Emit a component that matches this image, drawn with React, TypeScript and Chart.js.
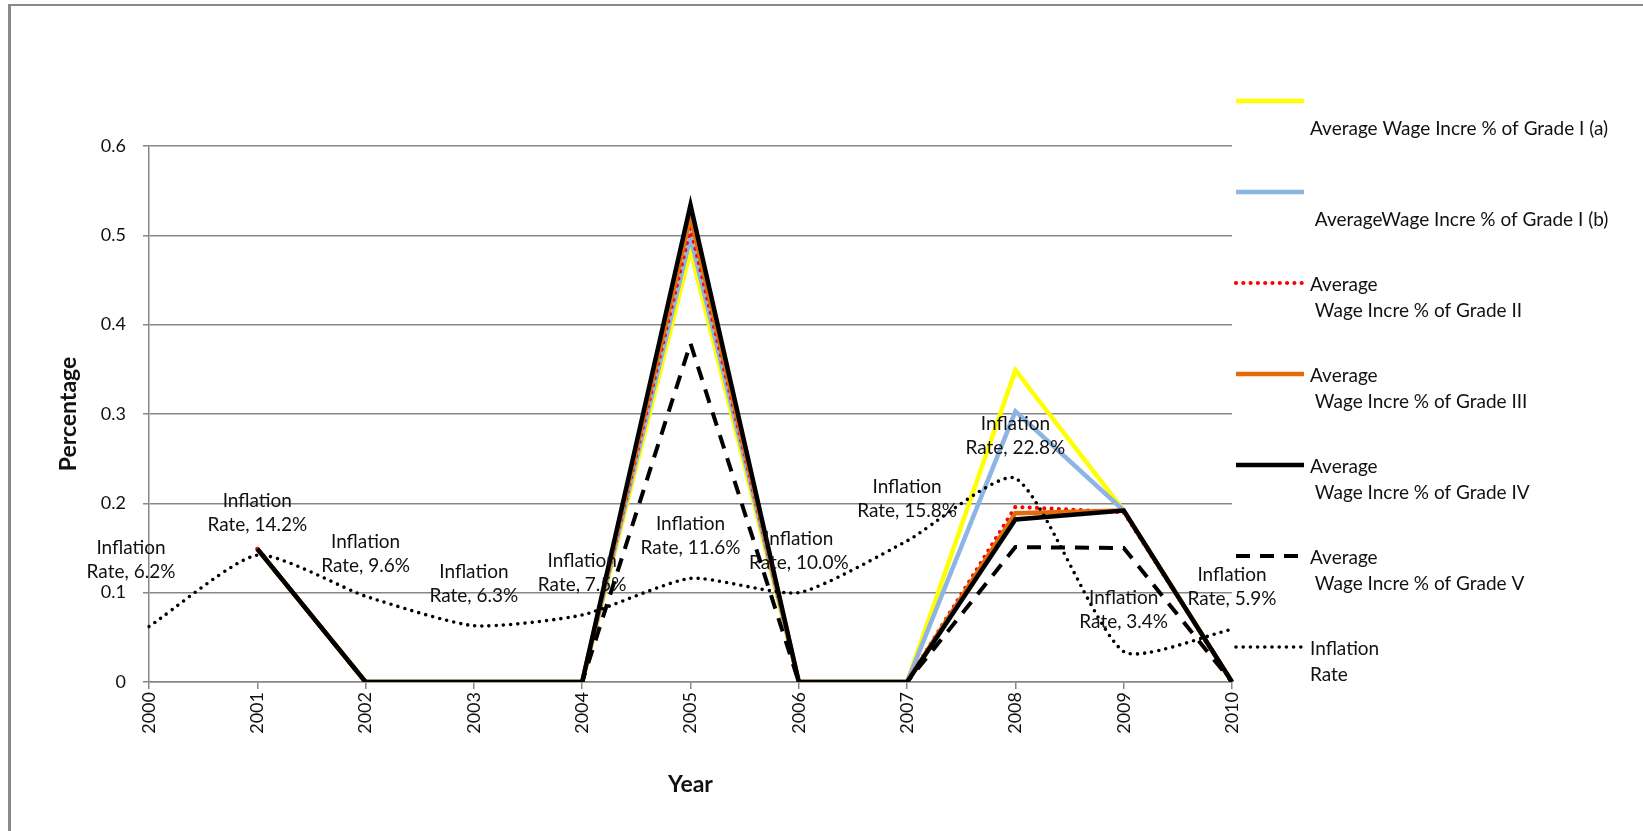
import React, { useEffect, useRef } from 'react';
import { Chart, registerables } from 'chart.js';

Chart.register(...registerables);

// ---------- data ----------
const years = ['2000', '2001', '2002', '2003', '2004', '2005', '2006', '2007', '2008', '2009', '2010'];

const gradeIa = [null, 0.149, 0, 0, 0, 0.483, 0, 0, 0.349, 0.192, 0];
const gradeIb = [null, 0.149, 0, 0, 0, 0.498, 0, 0, 0.303, 0.192, 0];
const gradeII = [null, 0.149, 0, 0, 0, 0.508, 0, 0, 0.196, 0.19, 0];
const gradeIII = [null, 0.149, 0, 0, 0, 0.521, 0, 0, 0.189, 0.192, 0];
const gradeIV = [null, 0.149, 0, 0, 0, 0.534, 0, 0, 0.182, 0.192, 0];
const gradeV = [null, 0.149, 0, 0, 0, 0.379, 0, 0, 0.151, 0.15, 0];
const inflation = [0.062, 0.142, 0.096, 0.063, 0.075, 0.116, 0.1, 0.158, 0.228, 0.034, 0.059];

const yTickLabels = ['0', '0.1', '0.2', '0.3', '0.4', '0.5', '0.6'];

const seriesNames = [
  'Average Wage Incre % of Grade I (a)',
  'AverageWage Incre % of Grade I (b)',
  'Average Wage Incre % of Grade II',
  'Average Wage Incre % of Grade III',
  'Average Wage Incre % of Grade IV',
  'Average Wage Incre % of Grade V',
  'Inflation Rate',
];

// legend text as it wraps in the reference (line 1, line 2)
const legendLines = [
  ['', 'Average Wage Incre % of Grade I (a)'],
  ['', ' AverageWage Incre % of Grade I (b)'],
  ['Average', ' Wage Incre % of Grade II'],
  ['Average', ' Wage Incre % of Grade III'],
  ['Average', ' Wage Incre % of Grade IV'],
  ['Average', ' Wage Incre % of Grade V'],
  ['Inflation', 'Rate'],
];

const FONT = 'Lato';
const GRID = '#878787';
const W = 1643;
const H = 831;

const inflationLabelPlugin = {
  id: 'inflationLabels',
  afterDatasetsDraw(chart: any) {
    const idx = chart.data.datasets.findIndex((d: any) => d.label === 'Inflation Rate');
    const meta = chart.getDatasetMeta(idx);
    const ctx = chart.ctx;
    ctx.save();
    ctx.font = `19px ${FONT}`;
    ctx.fillStyle = '#111';
    ctx.textAlign = 'center';
    ctx.textBaseline = 'middle';
    meta.data.forEach((pt: any, i: number) => {
      const v = chart.data.datasets[idx].data[i];
      let x = pt.x;
      let y = pt.y;
      if (i === 0) {
        x -= 18;
        y -= 25;
      }
      ctx.fillText('Inflation', x, y - 54);
      ctx.fillText('Rate, ' + (v * 100).toFixed(1) + '%', x, y - 30);
    });
    ctx.restore();
  },
};

const customLegendPlugin = {
  id: 'customLegend',
  afterDraw(chart: any) {
    const ctx = chart.ctx;
    const x1 = 1236;
    const x2 = 1304;
    const tx = 1310;
    const y0 = 101;
    const gap = 91;
    ctx.save();
    chart.data.datasets.forEach((ds: any, i: number) => {
      const y = y0 + i * gap;
      ctx.save();
      ctx.strokeStyle = ds.borderColor;
      ctx.lineWidth = ds.borderWidth;
      ctx.lineCap = ds.borderCapStyle || 'butt';
      ctx.setLineDash(ds.borderDash || []);
      ctx.beginPath();
      ctx.moveTo(x1, y);
      ctx.lineTo(x2, y);
      ctx.stroke();
      ctx.restore();
      const lines = legendLines[i];
      ctx.font = `19px ${FONT}`;
      ctx.fillStyle = '#111';
      ctx.textAlign = 'left';
      ctx.textBaseline = 'middle';
      lines.forEach((t: string, k: number) => {
        if (t) ctx.fillText(t, tx, y + 2 + k * 25.5);
      });
    });
    ctx.restore();
  },
};

export default function App() {
  const canvasRef = useRef<HTMLCanvasElement | null>(null);

  useEffect(() => {
    let chart: Chart | null = null;
    let cancelled = false;
    const build = () => {
      if (cancelled || !canvasRef.current) return;
      Chart.defaults.font.family = FONT;
      const lw = 4.5;
      chart = new Chart(canvasRef.current, {
        type: 'line',
        data: {
          labels: years,
          datasets: [
            { label: seriesNames[0], data: gradeIa, borderColor: '#FFFF00', borderWidth: lw, order: 7 },
            { label: seriesNames[1], data: gradeIb, borderColor: '#8DB4E2', borderWidth: lw, order: 6 },
            {
              label: seriesNames[2], data: gradeII, borderColor: '#FF0000', borderWidth: 4.2,
              borderDash: [0, 7.3], borderCapStyle: 'round', order: 5,
            },
            { label: seriesNames[3], data: gradeIII, borderColor: '#E36C09', borderWidth: lw, order: 4 },
            { label: seriesNames[4], data: gradeIV, borderColor: '#000000', borderWidth: lw, order: 3 },
            {
              label: seriesNames[5], data: gradeV, borderColor: '#000000', borderWidth: 4,
              borderDash: [14, 10], order: 2,
            },
            {
              label: seriesNames[6], data: inflation, borderColor: '#000000', borderWidth: 3.6,
              borderDash: [0, 7.2], borderCapStyle: 'round', tension: 0.2, order: 1,
            },
          ] as any,
        },
        options: {
          responsive: false,
          animation: false,
          devicePixelRatio: 1,
          layout: { padding: { left: 0, top: 146, right: 411, bottom: 0 } },
          elements: { point: { radius: 0, hoverRadius: 0 }, line: { fill: false } },
          plugins: {
            legend: { display: false },
            tooltip: { enabled: false },
          },
          scales: {
            x: {
              type: 'category',
              offset: false,
              grid: { drawOnChartArea: false, drawTicks: true, tickLength: 7, color: GRID, lineWidth: 1.5 },
              border: { display: true, color: GRID, width: 1.5 },
              ticks: {
                autoSkip: false,
                minRotation: 90,
                maxRotation: 90,
                padding: 3,
                color: '#111',
                font: { family: FONT, size: 18 },
              },
              title: {
                display: true,
                text: 'Year',
                color: '#111',
                font: { family: FONT, size: 23, weight: 'bold', lineHeight: 1.2 },
                padding: { top: 0, bottom: 33 },
              },
              afterFit: (s: any) => {
                s.height = 149;
              },
            },
            y: {
              min: 0,
              max: 0.6,
              ticks: {
                stepSize: 0.1,
                padding: 17,
                color: '#111',
                font: { family: FONT, size: 18 },
                callback: (v: any) => yTickLabels[Math.round(Number(v) * 10)],
              },
              grid: { color: GRID, lineWidth: 1.5, tickLength: 6 },
              border: { display: true, color: GRID, width: 1.5 },
              title: {
                display: true,
                text: 'Percentage',
                color: '#111',
                font: { family: FONT, size: 23, weight: 'bold', lineHeight: 1.2 },
                padding: { top: 55, bottom: 0 },
              },
              afterFit: (s: any) => {
                s.width = 149;
              },
            },
          },
        } as any,
        plugins: [inflationLabelPlugin, customLegendPlugin],
      });
    };
    const fontsApi = (document as any).fonts;
    if (fontsApi && fontsApi.load) {
      Promise.all([fontsApi.load(`19px ${FONT}`), fontsApi.load(`bold 23px ${FONT}`)])
        .catch(() => null)
        .then(build);
    } else {
      build();
    }
    return () => {
      cancelled = true;
      if (chart) chart.destroy();
    };
  }, []);

  return (
    <div style={{ position: 'fixed', left: 0, top: 0, width: W, height: H, background: '#fff', overflow: 'hidden' }}>
      <div
        style={{
          position: 'absolute',
          left: 8,
          top: 4,
          width: W,
          height: H,
          borderLeft: '3px solid #898989',
          borderTop: '2.5px solid #898989',
        }}
      />
      <canvas
        ref={canvasRef}
        width={W}
        height={H}
        style={{ position: 'absolute', left: 0, top: 0, width: W, height: H }}
      />
    </div>
  );
}
